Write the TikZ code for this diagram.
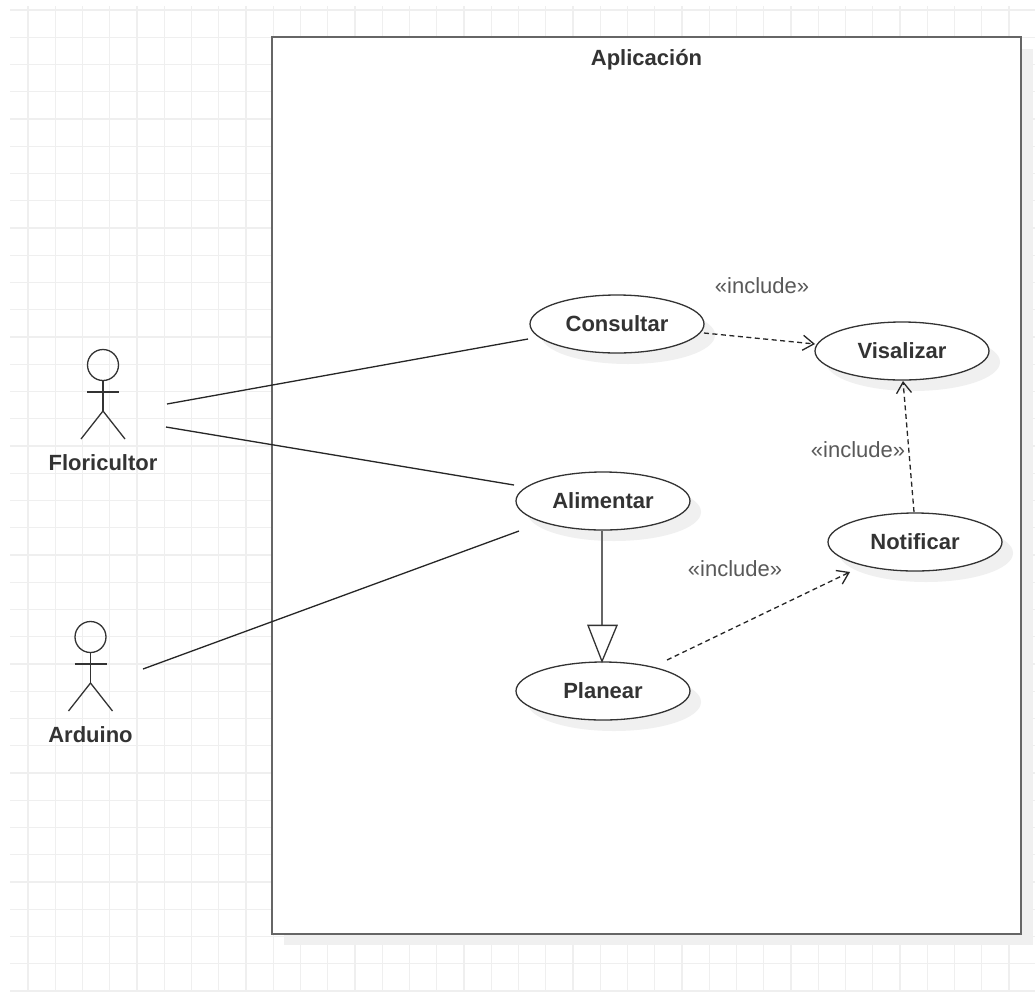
\documentclass[tikz,border=0pt]{standalone}
\usepackage{fontspec}
\setmainfont{Liberation Sans}
\usetikzlibrary{arrows.meta,shapes.geometric}
\definecolor{gridc}{HTML}{EFEFEF}
\definecolor{shadowc}{HTML}{F0F0F0}
\definecolor{inkc}{HTML}{333333}
\definecolor{boxc}{HTML}{666666}
\newcommand{\casetext}[1]{\raisebox{-1pt}{#1}}
\tikzset{
  usecase/.style={ellipse,draw=inkc,line width=1.3pt,fill=white,minimum width=174pt,minimum height=58pt,inner sep=0pt,font=\fontsize{22}{25}\selectfont\bfseries,text=inkc},
  caseshadow/.style={fill=shadowc,draw=none},
  actorline/.style={draw=inkc,line width=1.3pt},
  actorname/.style={font=\fontsize{22}{25}\selectfont\bfseries,text=inkc},
  assoc/.style={draw=black!85,line width=1.3pt},
  incl/.style={draw=black!85,line width=1.3pt,dash pattern=on 5pt off 3.5pt,-{Straight Barb[length=11pt,width=15pt,line width=1.3pt]}},
  genline/.style={draw=boxc,line width=1.8pt},
  gentip/.style={draw=inkc,line width=1.3pt,fill=white,line join=miter},
  incllabel/.style={font=\fontsize{22}{25}\selectfont,text=black!65},
}
\begin{document}
\begin{tikzpicture}[x=1pt,y=-1pt]
\useasboundingbox (0,0) rectangle (1035,991);
\fill[white] (0,0) rectangle (1035,991);
% grid
\foreach \i in {0,...,36} \draw[gridc,line width=1.2pt] ({28+27.25*\i},6) -- ({28+27.25*\i},991);
\foreach \i in {0,...,36} \draw[gridc,line width=1.2pt] (10,{10+27.25*\i}) -- (1035,{10+27.25*\i});
% system box
\fill[shadowc] (283.7,48.7) rectangle (1032.7,945);
\node[draw=boxc,line width=1.8pt,fill=white,outer sep=0pt,minimum width=749pt,minimum height=897.3pt,inner sep=0pt,anchor=north west] (sys) at (271.7,36.7) {};
\node[anchor=center,actorname] (title) at (646.5,59.5) {Aplicación};
% use cases
\foreach \cx/\cy in {617/324,902/351,603/501,915/542,603/691}
  \fill[caseshadow] ({\cx+11},{\cy+11}) ellipse [x radius=87,y radius=29];
\node[usecase] (consultar) at (617,324) {\casetext{Consultar}};
\node[usecase] (visalizar) at (902,351) {\casetext{Visalizar}};
\node[usecase] (alimentar) at (603,501) {\casetext{Alimentar}};
\node[usecase] (notificar) at (915,542) {\casetext{Notificar}};
\node[usecase] (planear) at (603,691) {\casetext{Planear}};
% actors
\coordinate (florihead) at (103,365);
\coordinate (ardhead) at (90.5,637);
\foreach \p in {florihead,ardhead}{
  \begin{scope}[shift={(\p)}]
    \draw[actorline] (0,0) circle [radius=15.5];
    \draw[actorline] (0,15.5) -- (0,46);
    \draw[actorline] (-16,27) -- (16,27);
    \draw[actorline] (-22,74) -- (0,46) -- (22,74);
  \end{scope}
}
\node[actorname] (floricultor) at (103,463) {Floricultor};
\node[actorname] (arduino) at (90.5,735) {Arduino};
% connectors
\coordinate (floriA) at (167,404);
\coordinate (floriB) at (166,427);
\coordinate (ardA) at (143,669);
\draw[assoc] (floriA) -- ([shift={(-89,15)}]consultar.center);
\draw[assoc] (floriB) -- ([shift={(-89,-16)}]alimentar.center);
\draw[assoc] (ardA) -- ([shift={(-84,30)}]alimentar.center);
\draw[incl] ([shift={(87,9)}]consultar.center) -- ([shift={(-87,-7)}]visalizar.center);
\draw[incl] ([shift={(-1,-30)}]notificar.center) -- ([shift={(1,30)}]visalizar.center);
\draw[incl] ([shift={(64,-31)}]planear.center) -- ([shift={(-65,30)}]notificar.center);
\draw[genline] ([xshift=-1pt]alimentar.south) -- ([xshift=-1pt,yshift=35pt]planear.north);
\draw[gentip] ([shift={(-15,-36)}]planear.north) -- ([shift={(14,-36)}]planear.north) -- ([xshift=-1pt]planear.north) -- cycle;
% labels
\node[incllabel] (l1) at (762,286) {«include»};
\node[incllabel] (l2) at (858,450) {«include»};
\node[incllabel] (l3) at (735,568.5) {«include»};
\end{tikzpicture}
\end{document}
